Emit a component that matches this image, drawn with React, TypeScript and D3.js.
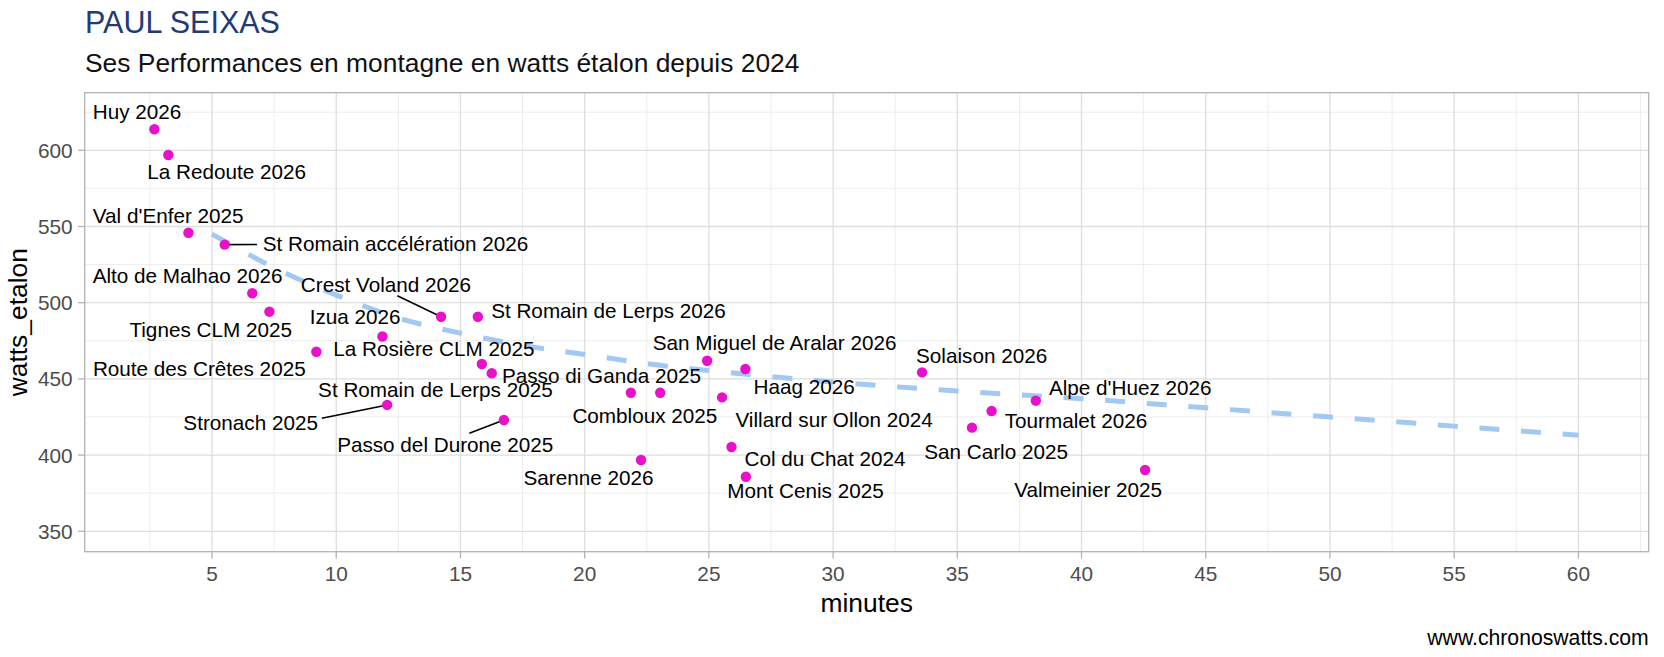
import * as d3 from "d3";

// Climbs: name, duration (minutes), standardised watts
const climbNames = [
  "Huy 2026",
  "La Redoute 2026",
  "Val d'Enfer 2025",
  "St Romain accélération 2026",
  "Alto de Malhao 2026",
  "Tignes CLM 2025",
  "Crest Voland 2026",
  "St Romain de Lerps 2026",
  "Izua 2026",
  "La Rosière CLM 2025",
  "St Romain de Lerps 2025",
  "Passo di Ganda 2025",
  "Stronach 2025",
  "Passo del Durone 2025",
  "Combloux 2025",
  "Route des Crêtes 2025",
  "San Miguel de Aralar 2026",
  "Haag 2026",
  "Villard sur Ollon 2024",
  "Col du Chat 2024",
  "Mont Cenis 2025",
  "Sarenne 2026",
  "Solaison 2026",
  "Tourmalet 2026",
  "Alpe d'Huez 2026",
  "San Carlo 2025",
  "Valmeinier 2025",
];
const climbMinutes = [
  2.68, 3.24, 4.05, 5.51, 6.62, 7.31, 14.22, 15.7, 11.86, 9.2, 15.86, 16.26,
  12.05, 16.75, 21.86, 23.04, 24.93, 26.47, 25.53, 25.91, 26.49, 22.27, 33.58,
  36.38, 38.16, 35.59, 42.56,
];
const climbWatts = [
  613.8, 596.9, 545.9, 538.1, 506.2, 494.1, 490.8, 490.8, 477.8, 467.8, 459.8,
  453.7, 432.9, 423.0, 440.9, 440.9, 461.9, 456.5, 437.9, 405.3, 385.8, 396.8,
  454.3, 428.9, 435.7, 418.0, 390.2,
];

// trend curve
const trendMinutes = [5, 7.5, 10, 12.5, 15, 17.5, 20, 22.5, 25, 27.5, 30, 35, 40, 45, 50, 55, 60];
const trendWatts = [545, 523, 505, 490, 480, 472, 466, 460, 455.5, 451.5, 448, 442, 437, 431, 425, 419, 413];

const xTicks = [5, 10, 15, 20, 25, 30, 35, 40, 45, 50, 55, 60];
const xMinor = [2.5, 7.5, 12.5, 17.5, 22.5, 27.5, 32.5, 37.5, 42.5, 47.5, 52.5, 57.5, 62.5];
const yTicks = [350, 400, 450, 500, 550, 600];
const yMinor = [375, 425, 475, 525, 575, 625];

// label placement (px from the point: left/baseline), plus optional leader end
const labelNudge: [number, number, [number, number]?][] = [
  [-61.6, -10],
  [-21, 24.3],
  [-95.6, -10],
  [38, 6, [32.3, -0.2]],
  [-159.6, -10],
  [-140, 25],
  [-140.2, -25, [-43.7, -21]],
  [13.3, 1],
  [-72.8, -13],
  [16.9, 4.6],
  [-163.7, 32.7],
  [10.2, 9.4],
  [-203.8, 25, [-65.3, 13.3]],
  [-166.8, 31.7, [-34.6, 13.3]],
  [-58.5, 30],
  [-567.3, -16.7],
  [-54.5, -10.4],
  [8.2, 25.5],
  [13.4, 29.4],
  [13, 18.7],
  [-18.6, 21.3],
  [-117.5, 24.7],
  [-6, -9.6],
  [13.1, 17.3],
  [13.1, -5.7],
  [-47.8, 31.6],
  [-131, 27],
];

const W = 1664;
const H = 657;
const panel = { left: 84.7, right: 1648.7, top: 92.7, bottom: 551.7 };
const FONT = "'Liberation Sans', Arial, Helvetica, sans-serif";

export default function App() {
  const x = d3.scaleLinear().domain([-0.125, 62.83]).range([panel.left, panel.right]);
  const y = d3.scaleLinear().domain([336.6, 637.8]).range([panel.bottom, panel.top]);

  const trend = d3
    .line<number>()
    .x((_, i) => x(trendMinutes[i]))
    .y((d) => y(d))
    .curve(d3.curveMonotoneX)(trendWatts);

  return (
    <svg
      width={W}
      height={H}
      style={{ position: "fixed", left: 0, top: 0, background: "#fff" }}
      fontFamily={FONT}
    >
      <rect width={W} height={H} fill="#fff" />

      {/* titles */}
      <text x={85} y={33} fontSize={30.5} fill="#233A78">
        PAUL SEIXAS
      </text>
      <text x={85} y={72} fontSize={26.4} fill="#111">
        Ses Performances en montagne en watts étalon depuis 2024
      </text>

      {/* grid */}
      {xMinor.map((v) => (
        <line key={"xm" + v} x1={x(v)} x2={x(v)} y1={panel.top} y2={panel.bottom} stroke="#EDEDED" strokeWidth={1} />
      ))}
      {yMinor.map((v) => (
        <line key={"ym" + v} x1={panel.left} x2={panel.right} y1={y(v)} y2={y(v)} stroke="#EDEDED" strokeWidth={1} />
      ))}
      {xTicks.map((v) => (
        <line key={"xg" + v} x1={x(v)} x2={x(v)} y1={panel.top} y2={panel.bottom} stroke="#DEDEDE" strokeWidth={1.3} />
      ))}
      {yTicks.map((v) => (
        <line key={"yg" + v} x1={panel.left} x2={panel.right} y1={y(v)} y2={y(v)} stroke="#DEDEDE" strokeWidth={1.3} />
      ))}

      {/* trend */}
      <path
        d={trend ?? ""}
        fill="none"
        stroke="#A3C8F2"
        strokeWidth={5}
        strokeDasharray="20 21.7"
      />

      {/* leader segments */}
      {labelNudge.map((n, i) =>
        n[2] ? (
          <line
            key={"s" + i}
            x1={x(climbMinutes[i])}
            y1={y(climbWatts[i])}
            x2={x(climbMinutes[i]) + n[2][0]}
            y2={y(climbWatts[i]) + n[2][1]}
            stroke="#000"
            strokeWidth={1.6}
          />
        ) : null
      )}

      {/* points */}
      {climbMinutes.map((m, i) => (
        <circle key={"p" + i} cx={x(m)} cy={y(climbWatts[i])} r={5.2} fill="#E910C9" />
      ))}

      {/* labels */}
      {climbNames.map((name, i) => (
        <text
          key={"l" + i}
          x={x(climbMinutes[i]) + labelNudge[i][0]}
          y={y(climbWatts[i]) + labelNudge[i][1]}
          fontSize={20.7}
          fill="#000"
        >
          {name}
        </text>
      ))}

      {/* panel border */}
      <rect
        x={panel.left}
        y={panel.top}
        width={panel.right - panel.left}
        height={panel.bottom - panel.top}
        fill="none"
        stroke="#B3B3B3"
        strokeWidth={1.3}
      />

      {/* x axis */}
      {xTicks.map((v) => (
        <g key={"xt" + v}>
          <line x1={x(v)} x2={x(v)} y1={panel.bottom} y2={panel.bottom + 6.7} stroke="#B3B3B3" strokeWidth={1.3} />
          <text x={x(v)} y={581} fontSize={20.8} fill="#4D4D4D" textAnchor="middle">
            {v}
          </text>
        </g>
      ))}
      {/* y axis */}
      {yTicks.map((v) => (
        <g key={"yt" + v}>
          <line x1={panel.left - 6.7} x2={panel.left} y1={y(v)} y2={y(v)} stroke="#B3B3B3" strokeWidth={1.3} />
          <text x={panel.left - 12} y={y(v)} dy="0.36em" fontSize={20.8} fill="#4D4D4D" textAnchor="end">
            {v}
          </text>
        </g>
      ))}

      <text x={(panel.left + panel.right) / 2} y={612} fontSize={26.4} textAnchor="middle" fill="#000">
        minutes
      </text>
      <text
        transform={`translate(27,${(panel.top + panel.bottom) / 2}) rotate(-90)`}
        fontSize={26.4}
        textAnchor="middle"
        fill="#000"
      >
        watts_etalon
      </text>

      <text x={panel.right} y={645} fontSize={21.2} textAnchor="end" fill="#000">
        www.chronoswatts.com
      </text>
    </svg>
  );
}
